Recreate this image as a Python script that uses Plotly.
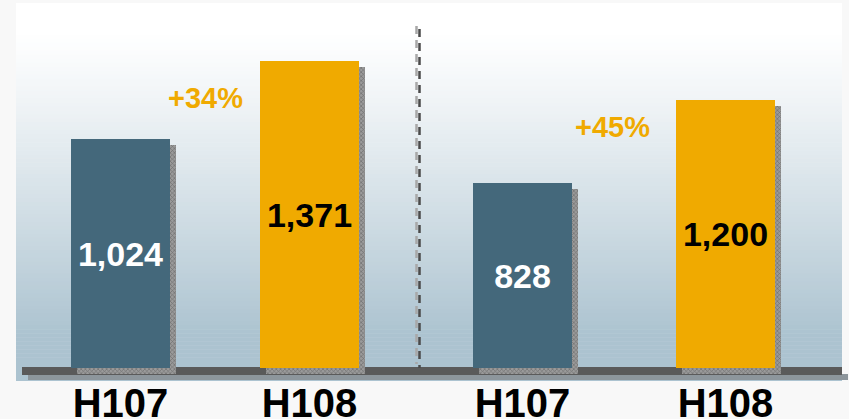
import plotly.graph_objects as go

# ---------------- data ----------------
categories = ["H107", "H108"]
left_values = [1024, 1371]
right_values = [828, 1200]
left_growth = "+34%"
right_growth = "+45%"

# ---------------- geometry / style ----------------
W, H = 849, 419
BLUE = "#44687b"
ORANGE = "#f0aa00"
PAGE_BG = "#f8f8f8"
FONT = "Liberation Sans, Arial, sans-serif"

PX_PER_UNIT = 229 / 1024.0      # vertical scale
ZERO_PX = 368                   # pixel row of value 0
DOMAIN_BOTTOM_PX = 376
y_min = -(DOMAIN_BOTTOM_PX - ZERO_PX) / PX_PER_UNIT
y_max = ZERO_PX / PX_PER_UNIT

left_dom_px = (26, 404)
right_dom_px = (421, 827)
BAR_PX = 99
SHADOW_DX = 6
SHADOW_DY = 6


def px_x(x):
    return x / W


def px_y(y):
    return 1 - y / H


def lerp(a, b, t):
    return a + (b - a) * t


shapes = []
# background gradient panel (bands)
top_rgb = (255, 255, 255)
bot_rgb = (172, 195, 208)
y0_panel, y1_panel = 3, 381
n = 95
step = (y1_panel - y0_panel) / n
for i in range(n):
    ya = y0_panel + i * step
    yb = ya + step + 0.6
    ym = ya + step / 2
    t = min(max((ym - 30) / (335 - 30), 0), 1) ** 1.15
    c = tuple(int(round(lerp(top_rgb[k], bot_rgb[k], t))) for k in range(3))
    shapes.append(dict(type="rect", xref="paper", yref="paper",
                       x0=px_x(16), x1=px_x(842), y0=px_y(min(yb, y1_panel)), y1=px_y(ya),
                       fillcolor="rgb(%d,%d,%d)" % c, line=dict(width=0), layer="below"))
# baseline shadow and baseline
shapes.append(dict(type="rect", xref="paper", yref="paper",
                   x0=px_x(28), x1=px_x(848), y0=px_y(380), y1=px_y(374),
                   fillcolor="#8d969c", line=dict(width=0), layer="below"))
shapes.append(dict(type="rect", xref="paper", yref="paper",
                   x0=px_x(22), x1=px_x(842), y0=px_y(375), y1=px_y(367),
                   fillcolor="#5a5a5a", line=dict(width=0), layer="below"))
# dashed separator (light + dark)
shapes.append(dict(type="line", xref="paper", yref="paper",
                   x0=px_x(416.5), x1=px_x(416.5), y0=px_y(26), y1=px_y(364),
                   line=dict(color="#a8a8a8", width=2.5, dash="8px,6px"), layer="above"))
shapes.append(dict(type="line", xref="paper", yref="paper",
                   x0=px_x(419.5), x1=px_x(419.5), y0=px_y(29), y1=px_y(368),
                   line=dict(color="#4a4a4a", width=2.5, dash="8px,6px"), layer="above"))

fig = go.Figure()


def add_group(values, xa, ya, dom_px):
    cat_px = (dom_px[1] - dom_px[0]) / 2.0
    w = BAR_PX / cat_px
    dx = SHADOW_DX / cat_px
    dy = SHADOW_DY / PX_PER_UNIT
    # shadow
    fig.add_trace(go.Bar(
        x=categories, y=values, width=w, offset=-w / 2 + dx, base=-dy,
        marker=dict(color="#6e6e6e", line=dict(width=0),
                    pattern=dict(shape="x", size=3, solidity=0.35,
                                 fgcolor="#3a3a3a", bgcolor="#9a9a9a")),
        xaxis=xa, yaxis=ya, hoverinfo="skip", showlegend=False))
    # bars
    fig.add_trace(go.Bar(
        x=categories, y=values, width=w, offset=-w / 2,
        marker=dict(color=[BLUE, ORANGE], line=dict(width=0)),
        texttemplate="%{y:,}", textposition="inside", insidetextanchor="middle",
        textangle=0,
        textfont=dict(family=FONT, size=34, color=["white", "black"], weight="bold"),
        xaxis=xa, yaxis=ya, showlegend=False))


add_group(left_values, "x", "y", left_dom_px)
add_group(right_values, "x2", "y2", right_dom_px)

xaxis_common = dict(showgrid=False, zeroline=False, showline=False, ticks="",
                    range=[-0.5, 1.5], fixedrange=True, automargin=False,
                    tickfont=dict(family=FONT, size=40, color="black", weight="bold"),
                    ticklabelstandoff=0)
yaxis_common = dict(visible=False, range=[y_min, y_max], automargin=False,
                    domain=[px_y(DOMAIN_BOTTOM_PX), 1], showgrid=False, zeroline=False)

fig.update_layout(
    width=W, height=H,
    margin=dict(l=0, r=0, t=0, b=0, pad=0, autoexpand=False),
    paper_bgcolor=PAGE_BG, plot_bgcolor="rgba(0,0,0,0)",
    barmode="overlay", bargap=0,
    showlegend=False,
    xaxis=dict(domain=[px_x(left_dom_px[0]), px_x(left_dom_px[1])], anchor="y", **xaxis_common),
    xaxis2=dict(domain=[px_x(right_dom_px[0]), px_x(right_dom_px[1])], anchor="y2", **xaxis_common),
    yaxis=dict(anchor="x", **yaxis_common),
    yaxis2=dict(anchor="x2", **yaxis_common),
    shapes=shapes,
    uniformtext=dict(minsize=34, mode="show"),
    annotations=[
        dict(text=left_growth, xref="x", yref="y", x=0.452, y=1207, showarrow=False,
             font=dict(family=FONT, size=29, color=ORANGE, weight="bold"),
             xanchor="center", yanchor="middle"),
        dict(text=right_growth, xref="x2", yref="y2", x=0.441, y=1078, showarrow=False,
             font=dict(family=FONT, size=29, color=ORANGE, weight="bold"),
             xanchor="center", yanchor="middle"),
    ],
)

fig.write_html("out.html")
